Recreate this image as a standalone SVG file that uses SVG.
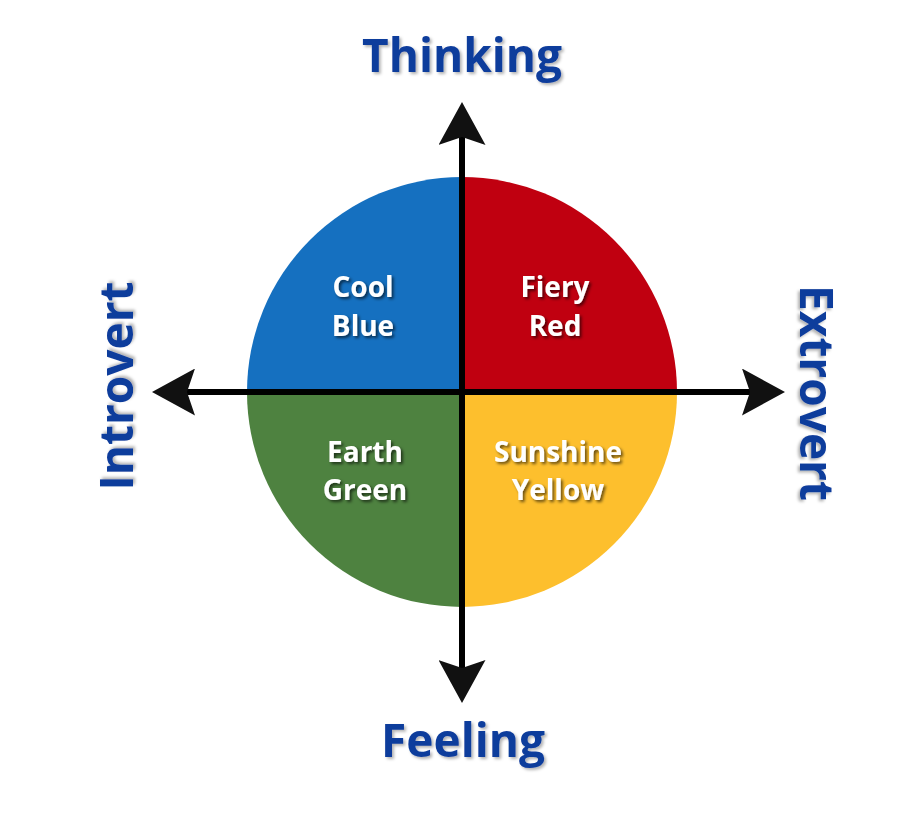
<svg xmlns="http://www.w3.org/2000/svg" width="920" height="813" viewBox="0 0 920 813">
  <style>
    .axis { font-family: "Open Sans", "Liberation Sans", sans-serif; font-weight: bold; font-size: 46px; fill: #0f3c9c; text-anchor: middle; filter: url(#sh); }
    .quad { font-family: "Open Sans", "Liberation Sans", sans-serif; font-weight: bold; font-size: 28px; fill: #ffffff; text-anchor: middle; filter: url(#sh2); }
    .line { stroke: #000; stroke-width: 6; fill: none; marker-start: url(#arrow); marker-end: url(#arrow); }
  </style>
  <defs>
    <filter id="sh" x="-10%" y="-20%" width="120%" height="150%">
      <feDropShadow dx="2" dy="2" stdDeviation="1.5" flood-color="#000" flood-opacity="0.3"/>
    </filter>
    <filter id="sh2" x="-10%" y="-20%" width="130%" height="150%">
      <feDropShadow dx="2" dy="2" stdDeviation="1.5" flood-color="#000" flood-opacity="0.6"/>
    </filter>
    <marker id="arrow" markerUnits="userSpaceOnUse" viewBox="0 0 43 47" markerWidth="43" markerHeight="47" refX="9" refY="23.5" orient="auto-start-reverse">
      <path d="M0,0 L43,23.5 L0,47 L8,23.5 Z" fill="#111"/>
    </marker>
  </defs>
  <rect width="920" height="813" fill="#ffffff"/>

  <g id="cool-blue">
    <path d="M462,392 L247,392 A215,215 0 0 1 462,177 Z" fill="#1570c0"/>
    <text class="quad" x="363" y="297">Cool</text>
    <text class="quad" x="363" y="336">Blue</text>
  </g>
  <g id="fiery-red">
    <path d="M462,392 L462,177 A215,215 0 0 1 677,392 Z" fill="#c00010"/>
    <text class="quad" x="555" y="297">Fiery</text>
    <text class="quad" x="555" y="336">Red</text>
  </g>
  <g id="sunshine-yellow">
    <path d="M462,392 L677,392 A215,215 0 0 1 462,607 Z" fill="#fdbf2d"/>
    <text class="quad" x="558" y="462">Sunshine</text>
    <text class="quad" x="558" y="500">Yellow</text>
  </g>
  <g id="earth-green">
    <path d="M462,392 L462,607 A215,215 0 0 1 247,392 Z" fill="#4e8240"/>
    <text class="quad" x="365" y="462">Earth</text>
    <text class="quad" x="365" y="500">Green</text>
  </g>

  <g id="connectors">
    <line class="line" x1="462" y1="136" x2="462" y2="669"/>
    <line class="line" x1="186" y1="392" x2="751" y2="392"/>
  </g>

  <g id="thinking"><text class="axis" x="462" y="72">Thinking</text></g>
  <g id="feeling"><text class="axis" x="463" y="757">Feeling</text></g>
  <g id="introvert"><text class="axis" transform="translate(133,386) rotate(-90)">Introvert</text></g>
  <g id="extrovert"><text class="axis" transform="translate(800,393) rotate(90)">Extrovert</text></g>
</svg>
